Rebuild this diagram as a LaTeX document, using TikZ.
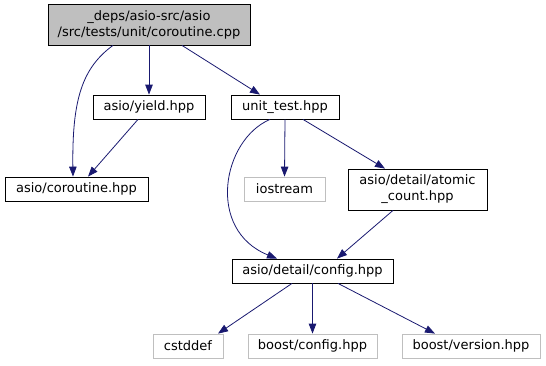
\documentclass[tikz,border=0pt]{standalone}
\usepackage{fontspec}
\setmainfont{DejaVu Sans}
\usetikzlibrary{arrows.meta}
\definecolor{edgeblue}{HTML}{191970}
\definecolor{boxgray}{HTML}{BFBFBF}
\begin{document}
\begin{tikzpicture}[x=1pt,y=-1pt,
	file/.style={draw=black,fill=white,line width=0.8pt,minimum height=24pt,inner sep=0pt,align=center,font=\fontsize{13}{16}\selectfont},
	sysfile/.style={file,draw=boxgray},
	include/.style={draw=edgeblue,line width=0.8pt,-{Triangle[length=10pt,width=7.5pt]}}]
	\useasboundingbox(0,0)rectangle(546,365);
	\node[file,fill=boxgray,minimum width=202pt,minimum height=41pt](root)at(149,24.5){\_deps/asio-src/asio\\/src/tests/unit/coroutine.cpp};
	\node[file,minimum width=112pt](yield)at(149,107){asio/yield.hpp};
	\node[file,minimum width=108pt](unittest)at(285,107){unit\_test.hpp};
	\node[file,minimum width=143pt](coroutine)at(76.5,189){asio/coroutine.hpp};
	\node[sysfile,minimum width=81pt](iostream)at(284.5,189){iostream};
	\node[file,minimum width=139pt,minimum height=41pt](atomic)at(417.5,189.5){asio/detail/atomic\\\_count.hpp};
	\node[file,minimum width=161pt](config)at(312.5,271){asio/detail/config.hpp};
	\node[sysfile,minimum width=70pt](cstddef)at(188,346){cstddef};
	\node[sysfile,minimum width=129pt](boostconfig)at(312.5,346){boost/config.hpp};
	\node[sysfile,minimum width=138pt](boostversion)at(471,346){boost/version.hpp};
	\draw[include]([xshift=-36pt]root.south)..controls(82,68)and(72,100)..([xshift=-3.5pt]coroutine.north);
	\draw[include](root.south)--(yield.north);
	\draw[include]([xshift=33pt]root.south)--([xshift=-25pt]unittest.north);
	\draw[include]([xshift=-11pt]yield.south)--([xshift=11.5pt]coroutine.north);
	\draw[include](unittest.south)--(iostream.north);
	\draw[include]([xshift=18pt]unittest.south)--([xshift=-32.5pt]atomic.north);
	\draw[include]([xshift=-15pt]unittest.south)..controls(222,140)and(206,230)..([xshift=-35.5pt]config.north);
	\draw[include]([xshift=-24.5pt]atomic.south)--([xshift=24.5pt]config.north);
	\draw[include]([xshift=-20.5pt]config.south)--([xshift=30pt]cstddef.north);
	\draw[include](config.south)--(boostconfig.north);
	\draw[include]([xshift=25.5pt]config.south)--([xshift=-36pt]boostversion.north);
\end{tikzpicture}
\end{document}
